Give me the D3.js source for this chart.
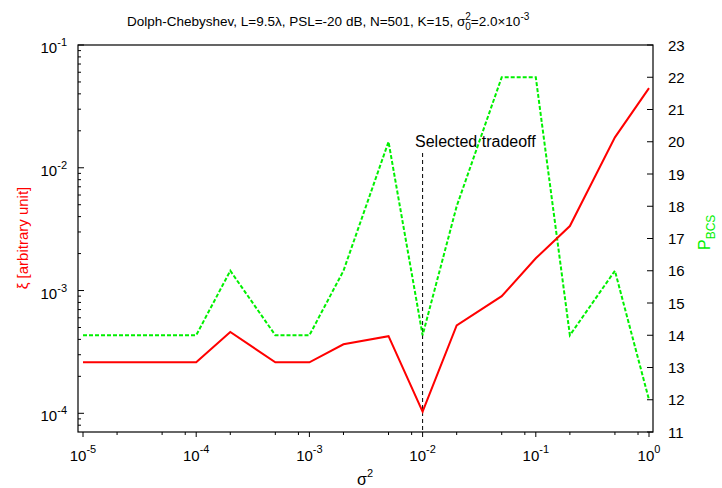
<!DOCTYPE html>
<meta charset="utf-8">
<html>
<body style="margin:0;background:#fff">
<div id="chart"></div>
<script src="https://cdn.jsdelivr.net/npm/d3@7"></script>
<script>
// sigma^2 values (x), shared by both curves
var sigma2 = [1e-5, 2e-5, 5e-5, 1e-4, 2e-4, 5e-4, 1e-3, 2e-3, 5e-3, 1e-2, 2e-2, 5e-2, 1e-1, 2e-1, 5e-1, 1];
// xi (left axis, log)
var xi = [2.6e-4, 2.6e-4, 2.6e-4, 2.6e-4, 4.6e-4, 2.6e-4, 2.6e-4, 3.65e-4, 4.25e-4, 1.03e-4, 5.2e-4, 9.0e-4, 1.83e-3, 3.35e-3, 1.77e-2, 4.45e-2];
// P_BCS (right axis)
var pbcs = [14, 14, 14, 14, 16, 14, 14, 16, 20, 14, 18, 22, 22, 14, 16, 12];
var xTickExp = [-5, -4, -3, -2, -1, 0];
var xMinorMult = [2, 5, 8];
var yTickExp = [-4, -3, -2, -1];
var rightTicks = [11, 12, 13, 14, 15, 16, 17, 18, 19, 20, 21, 22, 23];
var selected = 1e-2;

var W = 722, H = 488;
var mL = 78, mR = 653, mT = 45, mB = 432;
var font = "Liberation Sans, Arial, sans-serif";

var svg = d3.select("#chart").append("svg")
  .attr("width", W).attr("height", H)
  .style("font-family", font);

var x = d3.scaleLog().domain([1e-5, 1]).range([83, 649]);
var yL = d3.scaleLog().domain([1e-4, 1e-1]).range([413.3, mT]);
var yR = d3.scaleLinear().domain([11, 23]).range([mB, mT]);

// x ticks (outside, below frame)
var xMinor = [];
xTickExp.forEach(function (e) {
  if (e < 0) xMinorMult.forEach(function (k) { xMinor.push(k * Math.pow(10, e)); });
});
svg.selectAll(".xminor").data(xMinor).enter().append("line")
  .attr("x1", function (d) { return x(d); }).attr("x2", function (d) { return x(d); })
  .attr("y1", mB).attr("y2", mB + 3)
  .attr("stroke", "#000").attr("stroke-width", 1);
svg.selectAll(".xmajor").data(xTickExp).enter().append("line")
  .attr("x1", function (d) { return x(Math.pow(10, d)); }).attr("x2", function (d) { return x(Math.pow(10, d)); })
  .attr("y1", mB).attr("y2", mB + 5)
  .attr("stroke", "#000").attr("stroke-width", 1);
var xl = svg.selectAll(".xlab").data(xTickExp).enter().append("text")
  .attr("x", function (d) { return x(Math.pow(10, d)); })
  .attr("y", 461)
  .attr("text-anchor", "middle")
  .style("font-size", "15px");
xl.append("tspan").text("10");
xl.append("tspan").attr("dy", -8).style("font-size", "11px").text(function (d) { return d; });

// left y ticks (inside)
var yMinor = [];
yTickExp.forEach(function (e) {
  for (var k = 2; k <= 9; k++) yMinor.push(k * Math.pow(10, e));
});
yMinor.push(8e-5, 9e-5);
yMinor = yMinor.filter(function (d) { return d < 0.1 && yL(d) <= mB; });
svg.selectAll(".yminor").data(yMinor).enter().append("line")
  .attr("x1", mL).attr("x2", mL + 3)
  .attr("y1", function (d) { return yL(d); }).attr("y2", function (d) { return yL(d); })
  .attr("stroke", "#000");
svg.selectAll(".ymajor").data(yTickExp).enter().append("line")
  .attr("x1", mL).attr("x2", mL + 6)
  .attr("y1", function (d) { return yL(Math.pow(10, d)); }).attr("y2", function (d) { return yL(Math.pow(10, d)); })
  .attr("stroke", "#000");
var yl = svg.selectAll(".ylab").data(yTickExp).enter().append("text")
  .attr("x", 67)
  .attr("y", function (d) { return yL(Math.pow(10, d)) + 8; })
  .attr("text-anchor", "end")
  .style("font-size", "15px");
yl.append("tspan").text("10");
yl.append("tspan").attr("dy", -7).style("font-size", "11px").text(function (d) { return d; });

// right ticks (inside)
svg.selectAll(".rtick").data(rightTicks).enter().append("line")
  .attr("x1", mR - 6).attr("x2", mR)
  .attr("y1", function (d) { return yR(d); }).attr("y2", function (d) { return yR(d); })
  .attr("stroke", "#000");
svg.selectAll(".rlab").data(rightTicks).enter().append("text")
  .attr("x", 668)
  .attr("y", function (d) { return yR(d) + 5.5; })
  .style("font-size", "15px")
  .text(function (d) { return d; });

// frame
svg.append("rect")
  .attr("x", mL).attr("y", mT)
  .attr("width", mR - mL).attr("height", mB - mT)
  .attr("fill", "none").attr("stroke", "#000").attr("stroke-width", 1.2);

// selected tradeoff marker
svg.append("line")
  .attr("x1", x(selected)).attr("x2", x(selected))
  .attr("y1", 153).attr("y2", mB)
  .attr("stroke", "#000").attr("stroke-width", 1)
  .attr("stroke-dasharray", "4,3");
svg.append("text")
  .attr("x", 415).attr("y", 147)
  .style("font-size", "16px")
  .text("Selected tradeoff");

// curves
var pts = sigma2.map(function (s, i) { return { s: s, xi: xi[i], p: pbcs[i] }; });
svg.append("path").datum(pts)
  .attr("fill", "none").attr("stroke", "#00f000").attr("stroke-width", 2)
  .attr("stroke-dasharray", "4,2")
  .attr("d", d3.line().x(function (d) { return x(d.s); }).y(function (d) { return yR(d.p); }));
svg.append("path").datum(pts)
  .attr("fill", "none").attr("stroke", "#ff0000").attr("stroke-width", 2)
  .attr("d", d3.line().x(function (d) { return x(d.s); }).y(function (d) { return yL(d.xi); }));

// title
var t = svg.append("text")
  .attr("x", 127).attr("y", 26)
  .style("font-size", "13.5px");
t.append("tspan").text("Dolph-Chebyshev, L=9.5\u03bb, PSL=-20 dB, N=501, K=15, \u03c3");
t.append("tspan").attr("dy", -6).style("font-size", "10px").text("2");
t.append("tspan").attr("dx", -5.6).attr("dy", 10).style("font-size", "10px").text("0");
t.append("tspan").attr("dy", -4).text("=2.0\u00d710");
t.append("tspan").attr("dy", -6).style("font-size", "10px").text("-3");

// axis titles
var xt = svg.append("text")
  .attr("x", 365).attr("y", 485)
  .attr("text-anchor", "middle")
  .style("font-size", "16px");
xt.append("tspan").text("\u03c3");
xt.append("tspan").attr("dy", -8).style("font-size", "11px").text("2");

svg.append("text")
  .attr("transform", "translate(28,238) rotate(-90)")
  .attr("text-anchor", "middle")
  .attr("fill", "#ff0000")
  .style("font-size", "15px")
  .text("\u03be [arbitrary unit]");

var pr = svg.append("text")
  .attr("transform", "translate(710,250) rotate(-90)")
  .attr("fill", "#00f000")
  .style("font-size", "16px");
pr.append("tspan").text("P");
pr.append("tspan").attr("dy", 5).style("font-size", "12px").text("BCS");
</script>
</body>
</html>
